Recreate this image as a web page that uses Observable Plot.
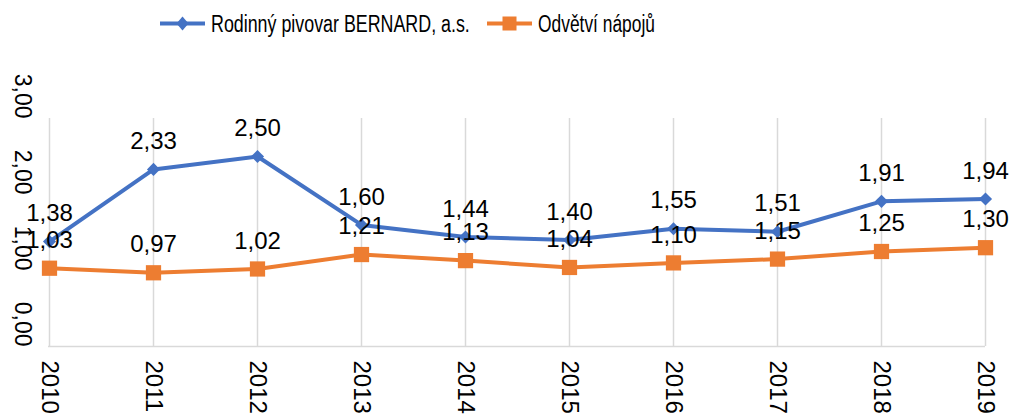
<!DOCTYPE html>
<html>
<head>
<meta charset="utf-8">
<script src="https://cdn.jsdelivr.net/npm/d3@7"></script>
<script src="https://cdn.jsdelivr.net/npm/@observablehq/plot@0.6"></script>
<style>
  html, body { margin: 0; padding: 0; background: #fff; }
  #legend { display: block; }
  #chart svg { display: block; }
</style>
</head>
<body>
<svg id="legend" width="1013" height="45"></svg>
<div id="chart"></div>
<script>
const years = [2010, 2011, 2012, 2013, 2014, 2015, 2016, 2017, 2018, 2019];
const bernard = [1.38, 2.33, 2.50, 1.60, 1.44, 1.40, 1.55, 1.51, 1.91, 1.94];
const odvetvi = [1.03, 0.97, 1.02, 1.21, 1.13, 1.04, 1.10, 1.15, 1.25, 1.30];
const seriesNames = ["Rodinný pivovar BERNARD, a.s.", "Odvětví nápojů"];
const seriesColors = ["#4472C4", "#ED7D31"];
const yTicks = [0, 1, 2, 3];

const fmt = d => d.toFixed(2).replace(".", ",");
const rowsB = years.map((year, i) => ({year, value: bernard[i], series: seriesNames[0]}));
const rowsO = years.map((year, i) => ({year, value: odvetvi[i], series: seriesNames[1]}));

// Legend (above the plot), text condensed horizontally like the original
const lg = d3.select("#legend");
const font = "'Liberation Sans', Arial, sans-serif";
const ly = 23.5;
const items = [
  {x: 160, tx: 211, tw: 259, color: seriesColors[0], name: seriesNames[0], sym: "diamond"},
  {x: 487, tx: 538, tw: 117, color: seriesColors[1], name: seriesNames[1], sym: "square"}
];
items.forEach(it => {
  lg.append("line").attr("x1", it.x).attr("x2", it.x + 45).attr("y1", ly).attr("y2", ly)
    .attr("stroke", it.color).attr("stroke-width", 4);
  const cx = it.x + 22.5;
  if (it.sym === "diamond") {
    lg.append("path").attr("d", `M${cx},${ly-7}L${cx+6},${ly}L${cx},${ly+7}L${cx-6},${ly}Z`).attr("fill", it.color);
  } else {
    lg.append("rect").attr("x", cx - 7).attr("y", ly - 7).attr("width", 14).attr("height", 14).attr("fill", it.color);
  }
  const t = lg.append("text").attr("dy", "0.35em")
    .attr("font-family", font).attr("font-size", 24.5).attr("fill", "#000")
    .text(it.name);
  const w = t.node().getComputedTextLength() || it.tw;
  t.attr("transform", `translate(${it.tx},${ly}) scale(${it.tw / w},1)`);
});

const plot = Plot.plot({
  width: 1013,
  height: 369,
  marginTop: 73,
  marginBottom: 68,
  marginLeft: 48,
  marginRight: 28,
  style: {fontFamily: font, color: "#000", background: "#fff", overflow: "visible"},
  x: {type: "point", domain: years, padding: 0},
  y: {domain: [0, 3]},
  marks: [
    Plot.gridX({stroke: "#d9d9d9", strokeOpacity: 1, strokeWidth: 1.5}),
    Plot.ruleY([0], {stroke: "#d9d9d9", strokeWidth: 1.5}),
    Plot.axisY({ticks: yTicks, tickFormat: fmt, tickSize: 0, tickPadding: 0, dx: -26,
      rotate: 90, textAnchor: "end", lineAnchor: "middle", fontSize: 23, label: null, fill: "#000"}),
    Plot.axisX({tickSize: 0, tickPadding: 14, rotate: 90, textAnchor: "start", lineAnchor: "middle",
      fontSize: 24, label: null, tickFormat: d => String(d), fill: "#000"}),
    Plot.line(rowsO, {x: "year", y: "value", stroke: seriesColors[1], strokeWidth: 4}),
    Plot.dot(rowsO, {x: "year", y: "value", symbol: "square", r: 8.6, fill: seriesColors[1], stroke: null}),
    Plot.line(rowsB, {x: "year", y: "value", stroke: seriesColors[0], strokeWidth: 4}),
    Plot.dot(rowsB, {x: "year", y: "value", symbol: "diamond2", r: 5.9, fill: seriesColors[0], stroke: null}),
    Plot.text(rowsB, {x: "year", y: "value", text: d => fmt(d.value), dy: -28, fontSize: 24, fill: "#000"}),
    Plot.text(rowsO, {x: "year", y: "value", text: d => fmt(d.value), dy: -28, fontSize: 24, fill: "#000"})
  ]
});
document.getElementById("chart").appendChild(plot);
</script>
</body>
</html>
